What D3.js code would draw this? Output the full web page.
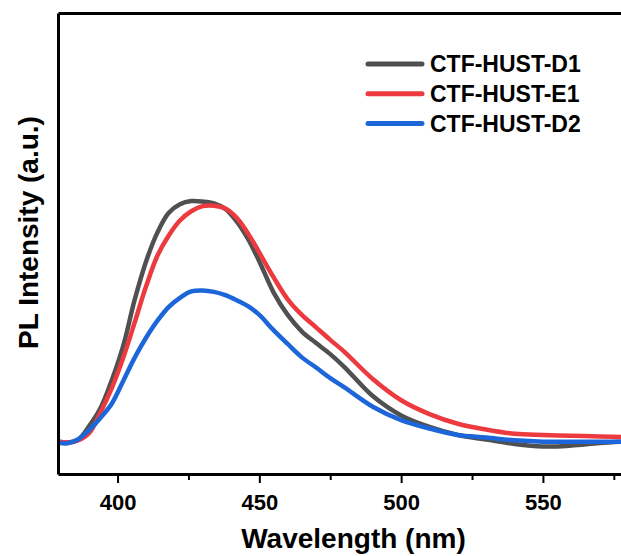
<!DOCTYPE html>
<html>
<head>
<meta charset="utf-8">
<script src="https://cdn.jsdelivr.net/npm/d3@7"></script>
<style>
  body { margin: 0; background: #fff; }
  text { font-family: "Liberation Sans", Arial, sans-serif; font-weight: bold; }
</style>
</head>
<body>
<script>
// wavelengths (nm) and PL intensities (a.u.)
var wavelength = [379, 382, 386, 390, 394, 398, 402, 406, 410, 414, 418, 422, 426, 430, 434, 438, 442, 446, 450,
                  455, 460, 465, 470, 475, 480, 490, 500, 510, 520, 530, 540, 550, 560, 570, 580];
var d1 = [7.05, 6.83, 7.38, 10.4, 14.3, 20.4, 27.8, 37.7, 46.0, 52.3, 56.6, 58.5, 59.2, 59.1, 58.7, 57.5, 54.8, 51.0, 46.1,
          39.4, 34.5, 30.9, 28.4, 26.0, 23.2, 16.9, 12.7, 10.2, 8.46, 7.48, 6.51, 5.97, 6.18, 6.72, 7.05];
var e1 = [7.05, 6.83, 7.27, 8.89, 13.4, 18.7, 25.2, 32.8, 40.6, 47.3, 51.7, 55.0, 57.0, 58.1, 58.2, 57.6, 55.6, 52.2, 48.0,
          42.7, 37.9, 34.5, 31.8, 29.1, 26.5, 20.6, 16.0, 13.0, 10.9, 9.65, 8.72, 8.46, 8.31, 8.13, 8.03];
var d2 = [6.83, 6.62, 7.5, 9.54, 12.2, 15.3, 20.2, 25.2, 29.5, 33.2, 36.2, 38.2, 39.6, 39.8, 39.5, 38.8, 37.7, 36.4, 34.5,
          31.2, 28.2, 25.3, 23.1, 20.8, 18.8, 14.6, 11.7, 9.87, 8.46, 7.92, 7.31, 7.01, 7.01, 7.01, 7.01];
var seriesNames = ["CTF-HUST-D1", "CTF-HUST-E1", "CTF-HUST-D2"];
var seriesColors = ["#505050", "#ec3a3f", "#1d66da"];
var majorTicks = [400, 450, 500, 550];
var minorTicks = [425, 475, 525, 575];

var W = 621, H = 556;
var margin = {top: 13, right: -7, bottom: 82, left: 58},
    width = W - margin.left - margin.right,
    height = H - margin.top - margin.bottom;

var x = d3.scaleLinear().domain([379, 580]).range([0, width]);
var y = d3.scaleLinear().domain([0, 100]).range([height, 0]);

var svg = d3.select("body").append("svg")
    .attr("width", W)
    .attr("height", H);

var g = svg.append("g")
    .attr("transform", "translate(" + margin.left + "," + margin.top + ")");

g.append("clipPath").attr("id", "clip")
  .append("rect").attr("width", width).attr("height", height);

// curves
var line = d3.line()
    .x(function(d) { return x(d[0]); })
    .y(function(d) { return y(d[1]); })
    .curve(d3.curveCatmullRom.alpha(0.5));

[d1, e1, d2].forEach(function(vals, i) {
    var pts = wavelength.map(function(w, j) { return [w, vals[j]]; });
    g.append("path")
        .datum(pts)
        .attr("clip-path", "url(#clip)")
        .attr("fill", "none")
        .attr("stroke", seriesColors[i])
        .attr("stroke-width", 4.5)
        .attr("stroke-linejoin", "round")
        .attr("d", line);
});

// minor ticks first
g.append("g")
    .attr("transform", "translate(0," + height + ")")
    .call(d3.axisBottom(x).tickValues(minorTicks).tickSize(6).tickFormat("").tickSizeOuter(0))
    .call(function(a) {
        a.select(".domain").remove();
        a.selectAll("line").attr("stroke", "#000").attr("stroke-width", 2);
    });

// bottom axis
var xAxis = g.append("g")
    .attr("transform", "translate(0," + height + ")")
    .call(d3.axisBottom(x).tickValues(majorTicks).tickSize(9).tickSizeOuter(0).tickPadding(11));
xAxis.select(".domain").attr("stroke-width", 3);
xAxis.selectAll("line").attr("stroke-width", 2);
xAxis.selectAll("text")
    .attr("font-size", "22px")
    .attr("fill", "#000")
    .attr("font-family", "Liberation Sans, Arial, sans-serif")
    .attr("font-weight", "bold");

// left, top, right frame (no ticks)
var yAxis = g.append("g")
    .call(d3.axisLeft(y).tickValues([]).tickSizeOuter(0));
yAxis.select(".domain").attr("stroke-width", 3);

g.append("g")
    .call(d3.axisTop(x).tickValues([]).tickSizeOuter(0))
    .select(".domain").attr("stroke-width", 3);

g.append("g")
    .attr("transform", "translate(" + width + ",0)")
    .call(d3.axisRight(y).tickValues([]).tickSizeOuter(0))
    .select(".domain").attr("stroke-width", 3);

// axis titles
svg.append("text")
    .attr("x", 353.5)
    .attr("y", 548)
    .attr("text-anchor", "middle")
    .attr("font-size", "28px")
    .text("Wavelength (nm)");

svg.append("text")
    .attr("transform", "translate(38,232.5) rotate(-90)")
    .attr("text-anchor", "middle")
    .attr("font-size", "28px")
    .text("PL Intensity (a.u.)");

// legend
var legend = svg.append("g");
seriesNames.forEach(function(name, i) {
    var ly = 64 + i * 29.8;
    legend.append("line")
        .attr("x1", 368).attr("x2", 422)
        .attr("y1", ly).attr("y2", ly)
        .attr("stroke", seriesColors[i])
        .attr("stroke-width", 5)
        .attr("stroke-linecap", "round");
    legend.append("text")
        .attr("x", 430)
        .attr("y", ly + 8)
        .attr("font-size", "23px")
        .text(name);
});
</script>
</body>
</html>
